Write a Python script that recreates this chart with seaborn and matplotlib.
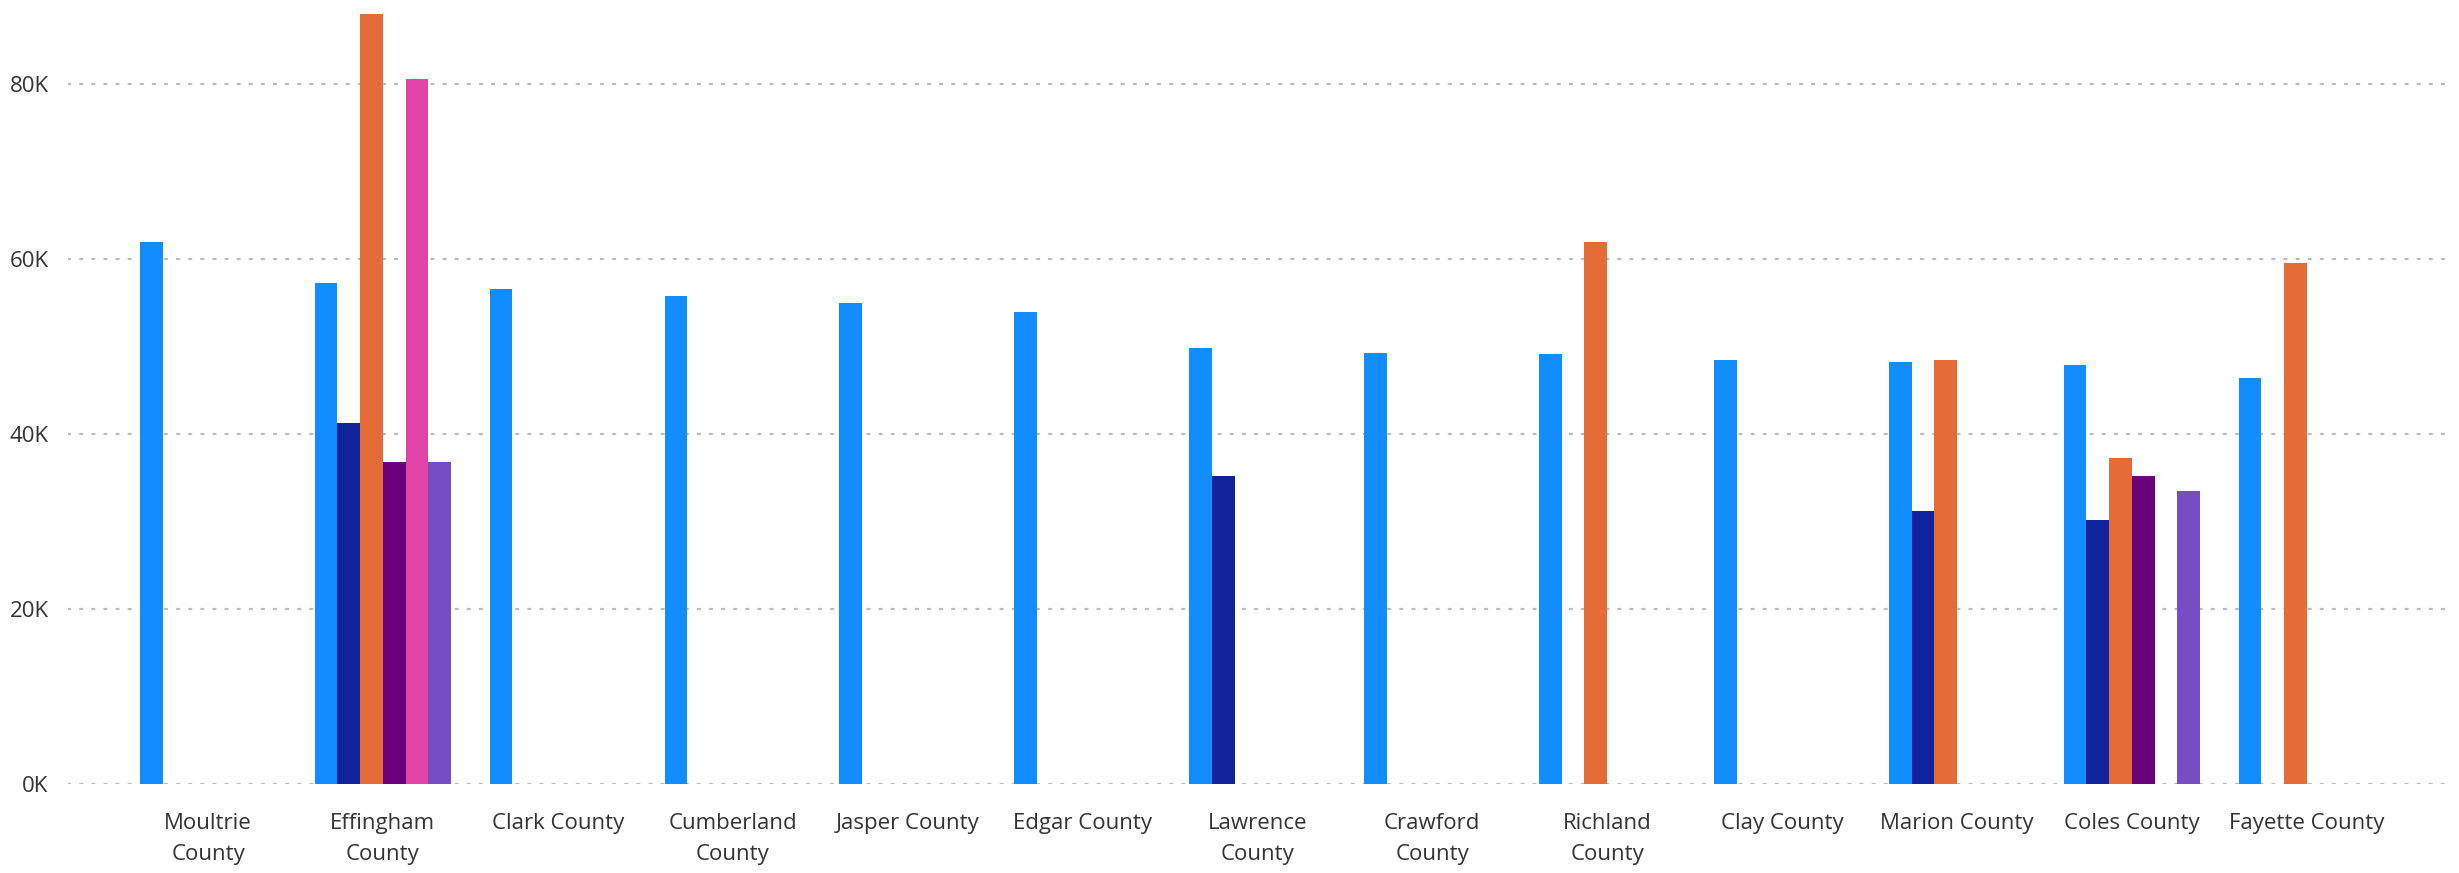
import numpy as np
import pandas as pd
import matplotlib
matplotlib.use("Agg")
import matplotlib.pyplot as plt
import seaborn as sns
from matplotlib.ticker import FuncFormatter

sns.set_theme(style="white")
plt.rcParams['font.family'] = ['Open Sans', 'DejaVu Sans']

# Dữ liệu (giá trị theo đơn vị tuyệt đối)
counties = ['Moultrie County', 'Effingham County', 'Clark County', 'Cumberland County',
            'Jasper County', 'Edgar County', 'Lawrence County', 'Crawford County',
            'Richland County', 'Clay County', 'Marion County', 'Coles County',
            'Fayette County']
tick_labels = ['Moultrie\nCounty', 'Effingham\nCounty', 'Clark County', 'Cumberland\nCounty',
               'Jasper County', 'Edgar County', 'Lawrence\nCounty', 'Crawford\nCounty',
               'Richland\nCounty', 'Clay County', 'Marion County', 'Coles County',
               'Fayette County']
series_names = ['Series 1', 'Series 2', 'Series 3', 'Series 4', 'Series 5', 'Series 6']

s1 = [61950, 57200, 56600, 55800, 55000, 53900, 49800, 49300, 49100, 48500, 48200, 47900, 46400]
s2 = [np.nan, 41200, np.nan, np.nan, np.nan, np.nan, 35200, np.nan, np.nan, np.nan, 31200, 30200, np.nan]
s3 = [np.nan, 88000, np.nan, np.nan, np.nan, np.nan, np.nan, np.nan, 61900, np.nan, 48500, 37200, 59500]
s4 = [np.nan, 36850, np.nan, np.nan, np.nan, np.nan, np.nan, np.nan, np.nan, np.nan, np.nan, 35200, np.nan]
s5 = [np.nan, 80600, np.nan, np.nan, np.nan, np.nan, np.nan, np.nan, np.nan, np.nan, np.nan, np.nan, np.nan]
s6 = [np.nan, 36750, np.nan, np.nan, np.nan, np.nan, np.nan, np.nan, np.nan, np.nan, np.nan, 33450, np.nan]

COLORS = ['#118DFF', '#12239E', '#E66C37', '#6B007B', '#E044A7', '#744EC2']

# Chuyển sang dạng long
rows = []
for name, vals in zip(series_names, [s1, s2, s3, s4, s5, s6]):
    for c, v in zip(counties, vals):
        if not np.isnan(v):
            rows.append({'County': c, 'Series': name, 'Value': v})
df = pd.DataFrame(rows)

fig = plt.figure(figsize=(24.59, 8.73), dpi=100)
ax = fig.add_axes([0.0277, 0.102, 0.9673, 0.898])

sns.barplot(data=df, x='County', y='Value', hue='Series', order=counties,
            hue_order=series_names, palette=COLORS, width=0.78, dodge=True,
            saturation=1, errorbar=None, ax=ax, legend=False, zorder=3,
            linewidth=0, edgecolor='none')

ax.set_xlim(-0.8, 12.8)
ax.set_ylim(0, 89600)
ax.set_yticks([0, 20000, 40000, 60000, 80000])
ax.yaxis.set_major_formatter(FuncFormatter(lambda v, p: f'{v/1000:.0f}K'))
ax.set_xticks(range(len(counties)))
ax.set_xticklabels(tick_labels, linespacing=1.6)

ax.yaxis.grid(True, color='#BDBBB9', linewidth=1.6, linestyle=(0, (1, 4.45)),
              dash_capstyle='round', zorder=0)
ax.xaxis.grid(False)
for s in ax.spines.values():
    s.set_visible(False)

ax.tick_params(axis='x', length=0, pad=21, labelsize=16, labelcolor='#333333')
ax.tick_params(axis='y', length=0, pad=14, labelsize=16, labelcolor='#333333')
ax.set_xlabel('')
ax.set_ylabel('')

fig.savefig('out.png', dpi=100, facecolor='white')
